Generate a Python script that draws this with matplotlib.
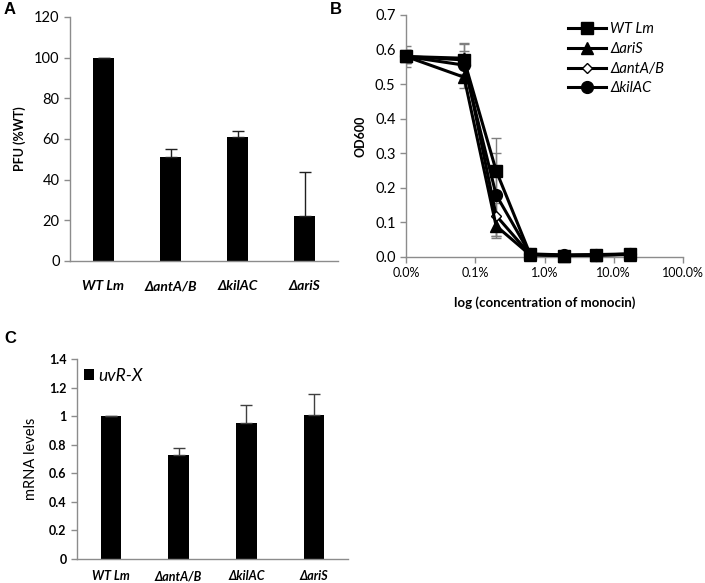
import matplotlib as mpl
import matplotlib.pyplot as plt
from matplotlib.ticker import FixedLocator, FixedFormatter, NullLocator

mpl.rcParams.update({
    "font.family": ["Lato", "DejaVu Sans"],
    "axes.linewidth": 1.0,
})

SPINE = "#8c8c8c"
ERR = "#7f7f7f"

# ---- panel A: plaque forming units ----
strains = ["WT Lm", "ΔantA/B", "ΔkilAC", "ΔariS"]
pfu = [100, 51, 61, 22]
pfu_err = [0, 4, 3, 22]

# ---- panel B: OD600 vs monocin concentration ----
conc = [0.0001, 0.00069, 0.002, 0.0062, 0.019, 0.056, 0.17]
od_wt = [0.58, 0.57, 0.25, 0.008, 0.004, 0.007, 0.009]
od_aris = [0.58, 0.52, 0.09, 0.006, 0.004, 0.005, 0.007]
od_antab = [0.58, 0.575, 0.12, 0.007, 0.005, 0.006, 0.008]
od_kilac = [0.58, 0.555, 0.18, 0.009, 0.006, 0.006, 0.008]
err_wt = [0.03, 0.045, 0.095, 0.003, 0.002, 0.002, 0.002]
err_aris = [0.02, 0.03, 0.03, 0.002, 0.002, 0.002, 0.002]
err_antab = [0.02, 0.045, 0.065, 0.002, 0.002, 0.002, 0.002]
err_kilac = [0.02, 0.04, 0.12, 0.002, 0.002, 0.002, 0.002]
conc_ticks = [0.0001, 0.001, 0.01, 0.1, 1]
conc_labels = ["0.0%", "0.1%", "1.0%", "10.0%", "100.0%"]

# ---- panel C: uvR-X mRNA levels ----
mrna = [1.0, 0.73, 0.95, 1.01]
mrna_err = [0.003, 0.05, 0.13, 0.145]


def style(ax):
    for s in ("top", "right"):
        ax.spines[s].set_visible(False)
    for s in ("left", "bottom"):
        ax.spines[s].set_color(SPINE)
    ax.tick_params(axis="both", color=SPINE, length=4, width=1, direction="out")


fig = plt.figure(figsize=(7.05, 5.83), dpi=100)
W, H = 705, 583


def px_axes(l, t, r, b):
    return fig.add_axes([l / W, 1 - b / H, (r - l) / W, (b - t) / H])


# A
axA = px_axes(70, 17, 338, 261)
xs = range(len(strains))
axA.bar(xs, pfu, width=0.3, color="black", zorder=2)
axA.errorbar(xs, pfu, yerr=[[0] * 4, pfu_err], fmt="none", ecolor="#202020",
             elinewidth=1, capsize=4, capthick=1, zorder=3)
axA.set_xlim(-0.5, 3.5)
axA.set_ylim(0, 120)
axA.set_yticks(range(0, 121, 20))
axA.set_xticks(list(xs))
axA.set_xticklabels(strains, fontsize=10, fontweight="bold", style="italic")
axA.set_ylabel("PFU (%WT)", fontsize=9, fontweight="bold", labelpad=6)
style(axA)
axA.tick_params(axis="x", length=0, pad=14)
axA.tick_params(axis="y", labelsize=10.5)

# B
axB = px_axes(406, 15, 683, 257)
series = [
    ("ΔkilAC", od_kilac, err_kilac, "o", 8.5, "black", 2),
    ("ΔantA/B", od_antab, err_antab, "D", 5.5, "white", 3),
    ("ΔariS", od_aris, err_aris, "^", 8.5, "black", 4),
    ("WT Lm", od_wt, err_wt, "s", 8.5, "black", 5),
]
handles = {}
for name, ys, es, mk, ms, fc, z in series:
    axB.errorbar(conc, ys, yerr=es, fmt="none", ecolor=ERR, elinewidth=1,
                 capsize=3.5, capthick=1, zorder=1)
    h, = axB.plot(conc, ys, "-", color="black", lw=2.2, marker=mk, ms=ms,
                  mfc=fc, mec="black", mew=1, zorder=z, clip_on=False)
    handles[name] = h
axB.set_xscale("log")
axB.set_xlim(1e-4, 1)
axB.set_ylim(0, 0.7)
axB.xaxis.set_major_locator(FixedLocator(conc_ticks))
axB.xaxis.set_major_formatter(FixedFormatter(conc_labels))
axB.xaxis.set_minor_locator(NullLocator())
axB.set_yticks([i / 10 for i in range(8)])
axB.set_yticklabels([f"{i / 10:.1f}" for i in range(8)])
axB.set_ylabel("OD600", fontsize=9, fontweight="bold", labelpad=6)
axB.set_xlabel("log (concentration of monocin)", fontsize=9.5, fontweight="bold",
               labelpad=12)
style(axB)
axB.tick_params(axis="y", labelsize=10.5)
axB.tick_params(axis="x", labelsize=9)
order = ["WT Lm", "ΔariS", "ΔantA/B", "ΔkilAC"]
leg = axB.legend([handles[n] for n in order], order, loc="upper left",
                 bbox_to_anchor=(568 / W, 1 - 22 / H), bbox_transform=fig.transFigure,
                 frameon=False, borderpad=0, borderaxespad=0, handlelength=2.6,
                 handletextpad=0.3, labelspacing=0.4, prop={"size": 10.5, "style": "italic"})

# C
axC = px_axes(77, 359, 348, 559)
axC.bar(xs, mrna, width=0.3, color="black", zorder=2, label="uvR-X")
axC.errorbar(xs, mrna, yerr=[[0] * 4, mrna_err], fmt="none", ecolor="#404040",
             elinewidth=1, capsize=4, capthick=1, zorder=3)
axC.set_xlim(-0.5, 3.5)
axC.set_ylim(0, 1.4)
cticks = [i / 10 for i in range(0, 15, 2)]
axC.set_yticks(cticks)
axC.set_yticklabels([f"{v:g}" for v in cticks], fontweight="bold")
axC.set_xticks(list(xs))
axC.set_xticklabels(strains, fontsize=9, fontweight="bold", style="italic")
axC.set_ylabel("mRNA levels", fontsize=10.5, labelpad=8)
style(axC)
axC.tick_params(axis="x", length=0, pad=8)
axC.tick_params(axis="y", labelsize=9)
axC.legend(loc="upper left", bbox_to_anchor=(84 / W, 1 - 368 / H),
           bbox_transform=fig.transFigure, frameon=False, borderpad=0,
           borderaxespad=0, handlelength=0.6, handleheight=0.6,
           handletextpad=0.25, prop={"size": 12.5, "style": "italic"})

# panel letters
for letter, x, y in [("A", 4, 2), ("B", 330, 2), ("C", 4, 331)]:
    fig.text(x / W, 1 - y / H, letter, fontsize=12, fontweight="bold",
             family="Liberation Sans", ha="left", va="top")

fig.savefig("out.png", dpi=100)
